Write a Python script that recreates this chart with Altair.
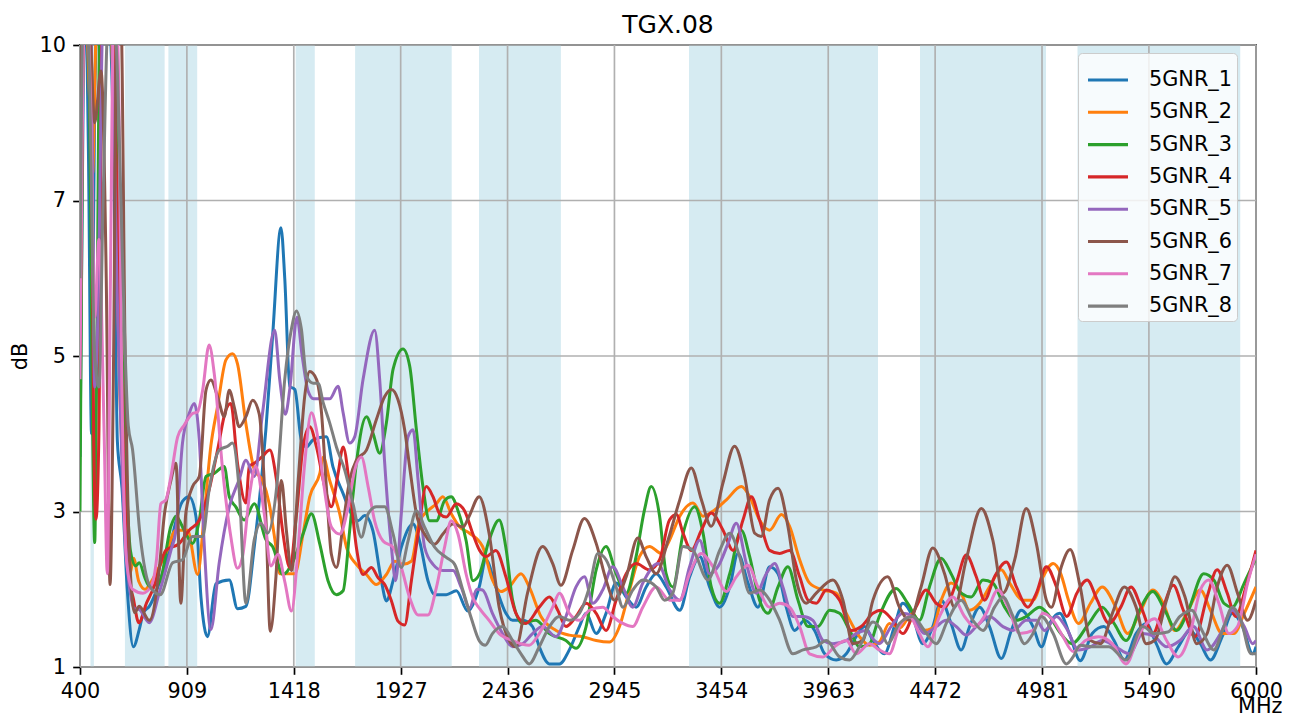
import altair as alt
import pandas as pd

TITLE = "TGX.08"
SERIES = ["5GNR_1", "5GNR_2", "5GNR_3", "5GNR_4", "5GNR_5", "5GNR_6", "5GNR_7", "5GNR_8"]
COLORS = ["#1f77b4", "#ff7f0e", "#2ca02c", "#d62728", "#9467bd", "#8c564b", "#e377c2", "#7f7f7f"]
X_TICKS = [400, 909, 1418, 1927, 2436, 2945, 3454, 3963, 4472, 4981, 5490, 6000]
Y_TICKS = [1, 3, 5, 7, 10]
BAND_START = [450, 614, 821, 1427, 1710, 2300, 3300, 4400, 5150]
BAND_END = [466, 803, 958, 1518, 2170, 2690, 4200, 5000, 5925]

S1 = [(400, 3.7), (415, 9), (425, 11), (440, 8), (455, 4.0), (470, 9), (490, 11), (530, 11), (560, 8),
      (578, 3.9), (600, 3.3), (625, 2.0), (654, 1.26), (682, 1.48), (702, 1.7), (730, 1.78), (809, 2.34),
      (888, 3.13), (920, 3.19), (952, 2.94), (976, 1.9), (1007, 1.39), (1047, 2.07), (1111, 2.12),
      (1150, 1.75), (1190, 1.78), (1230, 2.55), (1285, 4.05), (1317, 5.25), (1357, 6.65), (1375, 6.0),
      (1399, 4.61), (1423, 4.57), (1454, 3.92), (1478, 3.83), (1510, 3.92), (1573, 3.96), (1605, 3.57),
      (1653, 3.23), (1692, 2.97), (1724, 2.88), (1756, 2.95), (1795, 2.75), (1835, 2.11), (1859, 1.85),
      (1891, 2.11), (1930, 2.54), (1986, 2.84), (2017, 2.62), (2057, 2.11), (2089, 1.93), (2144, 1.93),
      (2192, 1.98), (2247, 1.72), (2279, 1.85), (2301, 2.03), (2333, 2.38), (2380, 2.03), (2428, 1.69),
      (2460, 1.6), (2508, 1.6), (2555, 1.52), (2587, 1.26), (2635, 1.04), (2683, 1.04), (2730, 1.22),
      (2778, 1.52), (2810, 1.69), (2858, 1.43), (2905, 1.69), (2953, 2.08), (3001, 1.9), (3048, 1.77),
      (3096, 2.03), (3144, 2.2), (3191, 2.03), (3256, 1.73), (3303, 2.16), (3351, 2.42), (3398, 2.03),
      (3446, 1.77), (3494, 2.03), (3533, 2.46), (3581, 2.08), (3628, 1.77), (3684, 2.29), (3724, 2.2),
      (3763, 1.77), (3803, 1.47), (3851, 1.6), (3898, 1.47), (3946, 1.17), (4001, 1.09), (4049, 1.17),
      (4096, 1.39), (4136, 1.52), (4176, 1.34), (4230, 1.17), (4278, 1.52), (4318, 1.82), (4365, 1.65),
      (4413, 1.3), (4461, 1.52), (4501, 1.86), (4548, 1.56), (4596, 1.22), (4636, 1.52), (4684, 1.77),
      (4731, 1.52), (4787, 1.11), (4835, 1.47), (4882, 1.73), (4938, 1.52), (4978, 1.26), (5018, 1.56),
      (5065, 1.69), (5115, 1.4), (5163, 1.08), (5220, 1.43), (5276, 1.52), (5324, 1.34), (5373, 1.09),
      (5429, 1.43), (5477, 1.56), (5525, 1.3), (5574, 1.04), (5630, 1.26), (5686, 1.47), (5735, 1.3),
      (5783, 1.09), (5839, 1.39), (5887, 1.69), (5936, 1.52), (5984, 1.17), (6000, 1.26)]

S2 = [(400, 4.4), (412, 9), (425, 11), (445, 9), (460, 7.5), (475, 10), (500, 11), (540, 11), (565, 7.8),
      (590, 4.5), (615, 3.0), (638, 2.2), (655, 2.4), (680, 2.1), (710, 2.0), (740, 2.1), (770, 2.25),
      (809, 2.46), (857, 2.76), (912, 2.76), (960, 2.19), (992, 2.98), (1023, 3.84), (1055, 4.35),
      (1095, 4.95), (1126, 5.03), (1150, 4.9), (1190, 4.13), (1230, 3.54), (1269, 3.4), (1301, 3.1),
      (1330, 2.6), (1351, 2.2), (1423, 2.2), (1462, 2.71), (1494, 3.19), (1542, 3.49), (1558, 3.7),
      (1589, 3.4), (1637, 2.97), (1669, 2.54), (1716, 2.32), (1764, 2.19), (1811, 2.06), (1859, 2.19),
      (1899, 2.36), (1938, 2.32), (1978, 2.36), (2017, 2.88), (2057, 3.01), (2097, 3.1), (2128, 3.19),
      (2168, 2.97), (2208, 2.8), (2255, 2.72), (2317, 2.55), (2364, 2.12), (2404, 1.97), (2444, 2.03),
      (2500, 2.2), (2539, 2.03), (2595, 1.65), (2667, 1.47), (2730, 1.41), (2794, 1.39), (2858, 1.34),
      (2921, 1.32), (2969, 1.52), (3017, 1.99), (3064, 2.42), (3112, 2.55), (3168, 2.46), (3207, 2.63),
      (3256, 2.94), (3319, 3.11), (3367, 2.94), (3422, 3.02), (3478, 3.15), (3549, 3.32), (3589, 3.19),
      (3636, 2.89), (3684, 2.76), (3740, 2.96), (3779, 2.81), (3827, 2.38), (3874, 2.08), (3938, 1.99),
      (4001, 1.95), (4049, 1.69), (4112, 1.39), (4160, 1.28), (4206, 1.32), (4254, 1.56), (4302, 1.5),
      (4365, 1.69), (4413, 1.47), (4461, 1.5), (4501, 1.86), (4548, 2.08), (4596, 1.95), (4636, 1.73),
      (4684, 1.82), (4731, 2.03), (4787, 2.25), (4827, 2.08), (4890, 1.86), (4938, 1.86), (4986, 2.16),
      (5034, 2.33), (5070, 2.2), (5107, 1.86), (5155, 1.56), (5212, 1.82), (5268, 2.03), (5332, 1.77),
      (5389, 1.43), (5445, 1.69), (5509, 1.99), (5558, 1.82), (5614, 1.47), (5670, 1.69), (5735, 1.99),
      (5783, 1.73), (5839, 1.43), (5895, 1.43), (5944, 1.69), (6000, 2.03)]

S3 = [(400, 3.0), (415, 10.5), (440, 11), (458, 4.5), (470, 2.6), (480, 5), (495, 10.5), (560, 10.5),
      (590, 6), (615, 3.8), (640, 2.5), (665, 2.3), (682, 2.34), (710, 2.14), (730, 2.04), (777, 2.08),
      (833, 2.81), (857, 2.94), (896, 2.76), (936, 2.59), (968, 2.89), (1000, 3.45), (1039, 3.49),
      (1087, 3.58), (1111, 3.19), (1142, 3.06), (1182, 2.89), (1230, 3.1), (1285, 2.64), (1317, 2.55),
      (1367, 2.19), (1415, 2.36), (1462, 2.71), (1502, 2.97), (1542, 2.58), (1581, 2.11), (1621, 1.93),
      (1653, 1.98), (1684, 2.75), (1716, 3.62), (1764, 4.22), (1795, 4.01), (1827, 3.75), (1859, 4.14),
      (1891, 4.83), (1938, 5.09), (1970, 4.87), (2002, 4.05), (2033, 3.32), (2065, 2.88), (2097, 2.88),
      (2136, 3.14), (2168, 3.19), (2200, 3.01), (2239, 2.62), (2271, 2.11), (2303, 2.2), (2348, 2.63),
      (2396, 2.89), (2430, 2.5), (2460, 1.86), (2508, 1.56), (2571, 1.6), (2635, 1.43), (2714, 1.34),
      (2762, 1.24), (2810, 1.52), (2858, 2.25), (2905, 2.55), (2953, 2.2), (3001, 1.95), (3048, 2.42),
      (3088, 3.02), (3120, 3.32), (3160, 2.94), (3191, 2.2), (3223, 2.03), (3272, 2.72), (3327, 3.06),
      (3367, 2.72), (3406, 2.03), (3446, 1.82), (3494, 2.2), (3549, 2.76), (3589, 2.42), (3636, 1.86),
      (3676, 1.69), (3724, 2.03), (3771, 2.29), (3819, 1.86), (3867, 1.52), (3914, 1.52), (3970, 1.73),
      (4017, 1.69), (4065, 1.47), (4112, 1.26), (4160, 1.3), (4206, 1.65), (4286, 2.01), (4341, 1.82),
      (4397, 1.6), (4445, 2.03), (4501, 2.4), (4548, 2.2), (4596, 1.95), (4644, 1.9), (4700, 2.12),
      (4747, 2.08), (4803, 1.77), (4859, 1.6), (4906, 1.65), (4970, 1.77), (5018, 1.65), (5065, 1.45),
      (5123, 1.3), (5204, 1.56), (5268, 1.77), (5324, 1.56), (5381, 1.34), (5445, 1.73), (5509, 1.97),
      (5566, 1.73), (5622, 1.47), (5678, 1.73), (5751, 2.2), (5799, 2.12), (5847, 1.82), (5887, 1.77),
      (5944, 2.08), (6000, 2.4)]

S4 = [(400, 5.0), (415, 10.5), (450, 11), (465, 4), (476, 2.9), (490, 4), (505, 10.5), (550, 10.5),
      (585, 6), (610, 3.5), (630, 2.2), (654, 1.88), (680, 1.57), (718, 1.83), (746, 1.99), (809, 2.5),
      (873, 2.59), (920, 2.76), (968, 2.89), (1015, 3.28), (1055, 3.79), (1095, 4.31), (1118, 4.39),
      (1150, 3.62), (1190, 3.11), (1206, 3.58), (1230, 3.62), (1269, 3.71), (1304, 3.79), (1336, 3.4),
      (1367, 2.71), (1399, 2.28), (1431, 2.97), (1462, 3.83), (1494, 4.09), (1526, 3.83), (1565, 3.32),
      (1597, 3.06), (1629, 3.49), (1653, 3.83), (1684, 3.32), (1716, 2.54), (1748, 2.19), (1788, 2.28),
      (1819, 2.15), (1851, 2.06), (1883, 1.85), (1914, 1.59), (1946, 1.54), (1978, 2.11), (2010, 2.71),
      (2049, 3.32), (2081, 3.19), (2113, 2.97), (2144, 2.93), (2192, 3.1), (2231, 3.01), (2271, 2.71),
      (2303, 2.5), (2333, 2.42), (2380, 2.5), (2428, 2.16), (2476, 1.69), (2523, 1.56), (2587, 1.77),
      (2635, 1.9), (2675, 1.73), (2714, 1.52), (2762, 1.65), (2810, 1.82), (2858, 1.69), (2905, 1.47),
      (2953, 1.86), (3001, 2.2), (3048, 2.33), (3112, 2.25), (3160, 2.38), (3207, 2.89), (3240, 2.96),
      (3272, 2.72), (3311, 2.5), (3359, 2.76), (3406, 2.98), (3462, 2.76), (3510, 2.5), (3557, 2.89),
      (3597, 3.19), (3636, 2.89), (3684, 2.5), (3732, 2.46), (3779, 2.5), (3827, 2.16), (3867, 1.86),
      (3906, 1.82), (3954, 1.99), (4017, 1.86), (4073, 1.47), (4120, 1.52), (4176, 1.69), (4214, 1.73),
      (4270, 1.6), (4318, 1.43), (4381, 1.77), (4429, 1.99), (4477, 1.82), (4517, 1.77), (4572, 2.08),
      (4620, 2.44), (4668, 2.16), (4707, 1.86), (4755, 2.16), (4811, 2.35), (4859, 2.03), (4914, 1.77),
      (4954, 1.95), (5002, 2.29), (5050, 2.03), (5099, 1.65), (5147, 1.95), (5196, 2.12), (5244, 1.86),
      (5300, 1.56), (5356, 1.77), (5405, 2.03), (5453, 1.77), (5509, 1.43), (5558, 1.77), (5606, 2.05),
      (5654, 1.73), (5710, 1.39), (5767, 1.9), (5815, 2.25), (5863, 1.95), (5903, 1.65), (5952, 2.03),
      (6000, 2.5)]

S5 = [(400, 7.5), (420, 11), (450, 11), (470, 4.6), (485, 5.5), (510, 10.5), (545, 10.5), (580, 5.5),
      (600, 3.6), (625, 2.3), (660, 1.75), (682, 1.74), (730, 1.57), (777, 1.95), (833, 2.5), (857, 2.76),
      (888, 3.88), (920, 4.26), (944, 4.39), (968, 3.92), (992, 2.55), (1023, 1.48), (1063, 2.34),
      (1111, 3.06), (1158, 3.41), (1190, 3.66), (1230, 3.45), (1269, 4.26), (1327, 5.33), (1351, 4.7),
      (1378, 4.25), (1400, 4.6), (1433, 5.5), (1458, 5.0), (1486, 4.55), (1512, 4.45), (1550, 4.45),
      (1589, 4.45), (1629, 4.61), (1653, 4.27), (1684, 3.88), (1708, 3.96), (1748, 4.7), (1803, 5.33),
      (1827, 4.7), (1851, 3.62), (1883, 2.54), (1903, 2.11), (1930, 2.97), (1962, 3.96), (1986, 4.05),
      (2010, 3.4), (2041, 2.54), (2081, 2.32), (2128, 2.24), (2176, 2.24), (2216, 2.02), (2255, 1.76),
      (2290, 2.0), (2317, 1.99), (2364, 1.69), (2412, 1.43), (2460, 1.26), (2508, 1.3), (2555, 1.43),
      (2603, 1.52), (2667, 1.39), (2714, 1.65), (2762, 2.03), (2802, 2.16), (2842, 1.82), (2889, 1.99),
      (2937, 2.29), (2985, 2.03), (3032, 1.77), (3080, 2.08), (3152, 2.33), (3207, 2.0), (3256, 1.86),
      (3303, 2.29), (3351, 2.63), (3398, 2.2), (3440, 2.3), (3486, 2.59), (3525, 2.85), (3573, 2.33),
      (3621, 1.95), (3668, 2.2), (3708, 2.33), (3747, 2.03), (3795, 1.65), (3843, 1.65), (3890, 1.6),
      (3938, 1.34), (3985, 1.3), (4049, 1.34), (4096, 1.43), (4144, 1.47), (4180, 1.35), (4206, 1.3),
      (4262, 1.52), (4318, 1.69), (4365, 1.65), (4421, 1.43), (4477, 1.52), (4525, 1.6), (4572, 1.52),
      (4620, 1.41), (4668, 1.52), (4731, 1.65), (4795, 1.52), (4843, 1.47), (4906, 1.6), (4954, 1.6),
      (4994, 1.47), (5050, 1.65), (5097, 1.5), (5155, 1.22), (5212, 1.26), (5268, 1.34), (5332, 1.26),
      (5397, 1.17), (5461, 1.43), (5517, 1.39), (5574, 1.26), (5638, 1.34), (5702, 1.52), (5767, 1.22),
      (5831, 1.43), (5887, 1.73), (5944, 1.52), (5984, 1.3), (6000, 1.34)]

S6 = [(400, 9), (420, 11), (445, 10.5), (470, 8.5), (500, 9.5), (525, 6), (543, 2.06), (560, 5),
      (575, 10.5), (595, 10.5), (615, 5), (635, 2.5), (660, 1.7), (682, 1.78), (730, 1.6), (777, 2.25),
      (801, 2.94), (833, 3.4), (857, 3.62), (880, 1.82), (904, 2.98), (936, 3.32), (968, 3.45),
      (1000, 4.56), (1023, 4.69), (1055, 4.48), (1087, 4.22), (1111, 4.56), (1134, 4.35), (1158, 4.09),
      (1190, 4.22), (1222, 4.43), (1253, 4.26), (1285, 2.94), (1306, 1.46), (1333, 2.16), (1359, 3.4),
      (1383, 2.75), (1407, 2.24), (1439, 3.4), (1470, 4.48), (1494, 4.8), (1526, 4.7), (1550, 4.27),
      (1573, 3.32), (1597, 2.45), (1621, 2.28), (1653, 2.84), (1684, 3.4), (1716, 3.66), (1764, 3.79),
      (1811, 4.18), (1851, 4.48), (1883, 4.57), (1914, 4.44), (1946, 4.05), (1970, 3.57), (2002, 2.97),
      (2041, 2.71), (2089, 2.58), (2128, 2.71), (2176, 2.84), (2224, 2.8), (2253, 2.94), (2301, 3.19),
      (2348, 2.72), (2396, 1.77), (2444, 1.34), (2476, 1.26), (2531, 1.95), (2603, 2.55), (2651, 2.33),
      (2690, 2.05), (2746, 2.5), (2802, 2.91), (2858, 2.59), (2905, 2.12), (2945, 1.86), (3001, 2.16),
      (3056, 2.66), (3096, 2.42), (3144, 2.2), (3200, 2.63), (3256, 3.15), (3311, 3.56), (3359, 3.15),
      (3406, 2.81), (3462, 3.37), (3517, 3.84), (3565, 3.45), (3613, 2.72), (3644, 2.68), (3684, 3.15),
      (3724, 3.3), (3771, 2.81), (3811, 2.12), (3858, 1.82), (3906, 1.95), (3985, 2.12), (4033, 1.86),
      (4080, 1.3), (4128, 1.34), (4176, 1.86), (4246, 2.16), (4302, 1.77), (4350, 1.6), (4405, 2.03),
      (4461, 2.53), (4517, 2.2), (4564, 1.77), (4620, 2.38), (4692, 3.04), (4747, 2.63), (4795, 1.95),
      (4851, 2.38), (4906, 3.04), (4954, 2.59), (5002, 1.86), (5026, 1.77), (5073, 2.29), (5115, 2.51),
      (5163, 2.03), (5212, 1.34), (5260, 1.3), (5316, 1.69), (5373, 2.03), (5429, 1.77), (5477, 1.3),
      (5520, 1.35), (5574, 1.86), (5614, 2.16), (5662, 1.9), (5718, 1.3), (5767, 1.43), (5815, 2.03),
      (5863, 2.31), (5912, 1.95), (5960, 1.6), (6000, 1.86)]

S7 = [(400, 4.7), (410, 8), (425, 11), (450, 9), (470, 5.5), (490, 6.5), (515, 4), (530, 2.2), (545, 6),
      (560, 10.5), (580, 10), (600, 4.5), (620, 2.4), (650, 2.0), (700, 1.95), (740, 2.05), (765, 2.4),
      (785, 3.1), (809, 3.15), (833, 3.45), (865, 3.96), (896, 4.11), (936, 4.26), (960, 4.28),
      (984, 4.56), (1015, 5.14), (1039, 4.78), (1079, 3.54), (1118, 2.68), (1150, 2.27), (1174, 2.42),
      (1206, 3.19), (1237, 3.58), (1277, 2.98), (1309, 2.3), (1343, 2.45), (1375, 2.1), (1407, 1.72),
      (1439, 2.54), (1470, 3.62), (1502, 4.27), (1526, 4.05), (1558, 3.4), (1597, 2.8), (1637, 2.71),
      (1677, 3.06), (1708, 3.53), (1740, 3.7), (1772, 3.32), (1803, 2.88), (1843, 2.62), (1891, 2.54),
      (1930, 2.28), (1970, 1.89), (2010, 1.67), (2057, 1.67), (2097, 2.02), (2136, 2.54), (2168, 2.88),
      (2200, 2.71), (2239, 2.19), (2271, 1.89), (2303, 1.75), (2348, 1.6), (2396, 1.43), (2460, 1.34),
      (2539, 1.28), (2587, 1.43), (2651, 1.77), (2683, 1.95), (2730, 1.69), (2778, 1.6), (2826, 1.73),
      (2889, 1.77), (2937, 1.65), (2985, 1.56), (3032, 1.52), (3080, 1.77), (3144, 2.03), (3207, 1.86),
      (3256, 1.86), (3303, 2.2), (3359, 2.46), (3414, 2.29), (3478, 1.97), (3525, 2.16), (3581, 2.31),
      (3628, 2.03), (3684, 1.77), (3732, 1.82), (3779, 1.77), (3827, 1.52), (3874, 1.17), (3938, 1.13),
      (3993, 1.26), (4049, 1.34), (4096, 1.17), (4160, 1.3), (4206, 1.22), (4254, 1.17), (4302, 1.52),
      (4350, 1.65), (4397, 1.43), (4437, 1.26), (4493, 1.65), (4556, 1.9), (4612, 1.65), (4660, 1.52),
      (4715, 1.69), (4771, 1.99), (4819, 1.77), (4875, 1.43), (4938, 1.47), (4986, 1.69), (5034, 1.6),
      (5081, 1.39), (5129, 1.2), (5188, 1.34), (5252, 1.39), (5316, 1.3), (5381, 1.04), (5445, 1.43),
      (5517, 1.62), (5574, 1.34), (5630, 1.13), (5686, 1.43), (5735, 1.99), (5775, 2.12), (5823, 1.82),
      (5871, 1.43), (5912, 1.52), (5960, 2.08), (6000, 2.45)]

S8 = [(400, 6), (415, 10.5), (440, 10), (470, 5.0), (490, 4.6), (510, 7), (535, 10.5), (560, 10.5),
      (575, 9.8), (595, 7), (612, 5.3), (630, 4.1), (650, 3.8), (686, 2.7), (734, 2.03), (782, 1.93),
      (841, 2.34), (888, 2.38), (936, 2.68), (984, 2.68), (1015, 3.28), (1063, 3.79), (1103, 3.84),
      (1126, 3.88), (1158, 3.28), (1190, 1.82), (1230, 2.64), (1261, 2.85), (1293, 2.72), (1336, 3.3),
      (1375, 4.7), (1407, 5.35), (1431, 5.58), (1454, 5.35), (1478, 4.74), (1510, 4.65), (1534, 4.65),
      (1558, 4.4), (1589, 4.14), (1621, 3.83), (1661, 3.53), (1700, 3.1), (1740, 2.67), (1772, 2.97),
      (1811, 3.06), (1851, 3.06), (1891, 2.71), (1930, 2.28), (1962, 2.62), (2002, 3.01), (2041, 2.8),
      (2089, 2.54), (2144, 2.41), (2184, 2.32), (2224, 1.98), (2263, 1.63), (2303, 1.33), (2330, 1.28),
      (2364, 1.43), (2412, 1.52), (2460, 1.34), (2500, 1.17), (2539, 1.04), (2587, 1.26), (2635, 1.52),
      (2683, 1.65), (2730, 1.6), (2778, 1.69), (2826, 2.03), (2866, 2.46), (2905, 2.38), (2953, 2.03),
      (2985, 1.77), (3032, 1.99), (3080, 2.12), (3144, 2.03), (3183, 1.86), (3223, 1.95), (3272, 2.55),
      (3319, 2.5), (3390, 2.12), (3446, 2.5), (3494, 2.72), (3541, 2.42), (3589, 1.95), (3636, 1.99),
      (3684, 1.86), (3732, 1.6), (3795, 1.17), (3843, 1.22), (3906, 1.26), (3954, 1.34), (4017, 1.13),
      (4065, 1.09), (4112, 1.26), (4176, 1.58), (4210, 1.5), (4246, 1.3), (4302, 1.56), (4365, 1.65),
      (4421, 1.47), (4477, 1.3), (4532, 1.6), (4596, 1.86), (4652, 1.6), (4700, 1.47), (4755, 1.77),
      (4795, 1.9), (4843, 1.65), (4898, 1.3), (4938, 1.43), (4978, 1.65), (5034, 1.43), (5097, 1.04),
      (5129, 1.13), (5163, 1.28), (5220, 1.26), (5300, 1.26), (5381, 1.09), (5461, 1.52), (5517, 1.43),
      (5580, 1.45), (5638, 1.65), (5694, 1.73), (5743, 1.47), (5799, 1.22), (5847, 1.52), (5887, 1.77),
      (5928, 1.6), (5976, 1.17), (6000, 1.17)]

ALL = [S1, S2, S3, S4, S5, S6, S7, S8]

W, H = 1176, 622
FONT = "DejaVu Sans"
FS = 20.8

rows = []
for name, pts in zip(SERIES, ALL):
    for i, (x, y) in enumerate(pts):
        rows.append({"series": name, "mhz": x, "db": y, "idx": i})
lines_df = pd.DataFrame(rows)
bands_df = pd.DataFrame({"start": BAND_START, "end": BAND_END})
vgrid_df = pd.DataFrame({"x": X_TICKS})
hgrid_df = pd.DataFrame({"y": Y_TICKS})
title_df = pd.DataFrame({"t": [TITLE]})

xscale = alt.Scale(domain=[400, 6000], nice=False, zero=False)
yscale = alt.Scale(domain=Y_TICKS, range=[H, H * 0.75, H * 0.5, H * 0.25, 0], nice=False, zero=False)

xaxis = alt.Axis(values=X_TICKS, title="MHz", grid=False, domain=False, tickSize=7.3, tickWidth=1.67,
                 tickColor="black", labelFontSize=FS, labelFont=FONT, labelColor="black",
                 labelPadding=7.3, labelFlush=False, labelOverlap=False, format="d",
                 titleFont=FONT, titleFontSize=FS, titleFontWeight="normal", titleColor="black",
                 titleX=W + 26, titleY=45, titleAlign="right", titleBaseline="alphabetic")
yaxis = alt.Axis(values=Y_TICKS, title="dB", grid=False, domain=False, tickSize=7.3, tickWidth=1.67,
                 tickColor="black", labelFontSize=FS, labelFont=FONT, labelColor="black",
                 labelPadding=7.3, labelFlush=False, labelOverlap=False, format="d",
                 titleFont=FONT, titleFontSize=FS, titleFontWeight="normal", titleColor="black",
                 titleX=-60, titleY=H / 2, titleAngle=-90, titleAlign="center", titleBaseline="middle")

bands = alt.Chart(bands_df).mark_rect(color="#add8e6", opacity=0.5).encode(
    x=alt.X("start:Q", scale=xscale, axis=xaxis),
    x2="end:Q",
    y=alt.value(0),
    y2=alt.value(H),
)

vgrid = alt.Chart(vgrid_df).mark_rule(color="#b0b0b0", strokeWidth=1.67).encode(
    x=alt.X("x:Q", scale=xscale, axis=xaxis),
    y=alt.value(0),
    y2=alt.value(H),
)

hgrid = alt.Chart(hgrid_df).mark_rule(color="#b0b0b0", strokeWidth=1.67).encode(
    y=alt.Y("y:Q", scale=yscale, axis=yaxis),
    x=alt.value(0),
    x2=alt.value(W),
)

legend = alt.Legend(title=None, orient="none", legendX=998, legendY=8,
                    symbolType="stroke", symbolSize=1600, symbolStrokeWidth=3.1, symbolOffset=3,
                    labelFontSize=FS, labelFont=FONT, labelColor="black", labelOffset=19,
                    rowPadding=0.3, padding=5, fillColor="rgba(255,255,255,0.8)",
                    strokeColor="#cccccc", cornerRadius=4)

lines = alt.Chart(lines_df).mark_line(interpolate="monotone", strokeWidth=3.0, clip=True).encode(
    x=alt.X("mhz:Q", scale=xscale, axis=xaxis),
    y=alt.Y("db:Q", scale=yscale, axis=yaxis),
    color=alt.Color("series:N", scale=alt.Scale(domain=SERIES, range=COLORS), legend=legend),
    order="idx:Q",
)

title = alt.Chart(title_df).mark_text(font=FONT, fontSize=25, color="black", align="center",
                                      baseline="alphabetic").encode(
    text="t:N",
    x=alt.value(W / 2),
    y=alt.value(-12.5),
)

chart = alt.layer(bands, vgrid, hgrid, lines, title).properties(
    width=W, height=H,
    autosize=alt.AutoSizeParams(type="none"),
    padding={"left": 72, "top": 37, "right": 33, "bottom": 47},
).configure_view(stroke="black", strokeWidth=1.67)

chart.save("out.html", embed_options={"renderer": "svg", "actions": False})
